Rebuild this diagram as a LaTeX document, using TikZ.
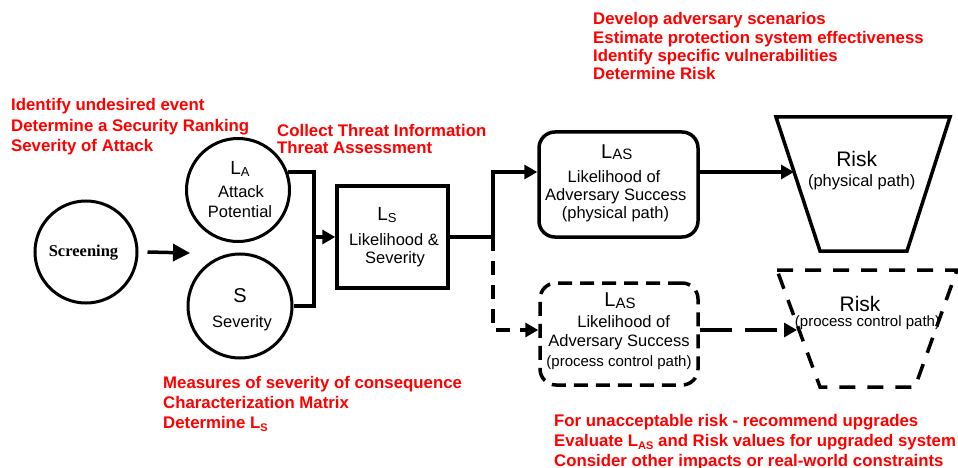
\documentclass[tikz,border=0pt]{standalone}
\usepackage{fontspec}
\setmainfont{Liberation Sans}
\newfontfamily\serifb{Liberation Serif}
\usetikzlibrary{arrows.meta}
\newcommand{\smallsub}[1]{\raisebox{-3pt}{\fontsize{11}{11}\selectfont #1}}
\newcommand{\blacksub}[2]{\raisebox{-1.5pt}{\fontsize{#1}{#1}\selectfont #2}}
\begin{document}
\begin{tikzpicture}[x=1pt,y=-1pt,
  redtxt/.style={text=red, font=\fontsize{16.8}{20}\selectfont\bfseries, inner sep=0, anchor=base west},
  btxt/.style={font=\fontsize{16.5}{19}\selectfont, inner sep=0, anchor=base},
  bigtxt/.style={font=\fontsize{21}{24}\selectfont, inner sep=0, anchor=base},
  conn/.style={line width=3.5pt},
  arr/.style={-{Triangle[length=13pt,width=14pt]}},
  circ/.style={draw, circle, line width=3pt, inner sep=0},
  dashbox/.style={dash pattern=on 14pt off 8pt}
]
\useasboundingbox (0,0) rectangle (958,468);

% red annotation texts
\foreach \t [count=\i] in {Identify undesired event, Determine a Security Ranking, Severity of Attack}
  \node[redtxt] (ra\i) at (11, {110.7+20.6*(\i-1)}) {\t};
\foreach \t [count=\i] in {Collect Threat Information, Threat Assessment}
  \node[redtxt] (rb\i) at (277, {136.7+16.7*(\i-1)}) {\t};
\foreach \t [count=\i] in {Develop adversary scenarios, Estimate protection system effectiveness, Identify specific vulnerabilities, Determine Risk}
  \node[redtxt] (rc\i) at (593, {25+18.3*(\i-1)}) {\t};
\foreach \t [count=\i] in {Measures of severity of consequence, Characterization Matrix, {Determine L\smallsub{S}}}
  \node[redtxt] (rd\i) at (163, {388.3+20*(\i-1)}) {\t};
\foreach \t [count=\i] in {For unacceptable risk - recommend upgrades, {Evaluate L\smallsub{AS} and Risk values for upgraded system}, Consider other impacts or real-world constraints}
  \node[redtxt] (re\i) at (554, {426.7+20*(\i-1)}) {\t};

% shapes
\node[circ, minimum size=102pt] (scr) at (86,252) {};
\node[inner sep=0, anchor=base, font=\fontsize{16.5}{19}\selectfont\serifb\bfseries] (scrt) at (83.5,256) {Screening};

\node[circ, minimum size=103pt] (la) at (238,190) {};
\node[bigtxt, font=\fontsize{19}{22}\selectfont] (lat1) at (240,175) {L\blacksub{13}{A}};
\node[btxt] (lat2) at (241,197.3) {Attack};
\node[btxt] (lat3) at (240,217.3) {Potential};

\node[circ, minimum size=104pt] (sv) at (240,306) {};
\node[bigtxt, font=\fontsize{20}{22}\selectfont] (svt1) at (240,302.7) {S};
\node[btxt] (svt2) at (242,327) {Severity};

\node[draw, line width=3.5pt, minimum width=111pt, minimum height=102pt, inner sep=0] (ls) at (392.5,237) {};
\node[bigtxt, font=\fontsize{19}{22}\selectfont] (lst1) at (387,220.7) {L\blacksub{13}{S}};
\node[btxt] (lst2) at (394,245) {Likelihood \&};
\node[btxt] (lst3) at (395,263.3) {Severity};

\node[draw, line width=3.5pt, rounded corners=16pt, minimum width=159pt, minimum height=105pt, inner sep=0] (las) at (618.5,184.5) {};
\node[bigtxt, font=\fontsize{20}{22}\selectfont] (last1) at (616.7,158.3) {L\blacksub{15}{AS}};
\node[btxt] (last2) at (614,182.3) {Likelihood of};
\node[btxt] (last3) at (615.8,200) {Adversary Success};
\node[btxt] (last4) at (615.5,218.3) {(physical path)};

\node[draw, dashbox, line width=3.5pt, rounded corners=16pt, minimum width=158pt, minimum height=102pt, inner sep=0] (dlas) at (619,334) {};
\node[bigtxt, font=\fontsize{20}{22}\selectfont] (dlast1) at (620,306.7) {L\blacksub{15}{AS}};
\node[btxt] (dlast2) at (623.7,327.3) {Likelihood of};
\node[btxt] (dlast3) at (619,346.7) {Adversary Success};
\node[btxt, font=\fontsize{15}{18}\selectfont] (dlast4) at (619,366.5) {(process control path)};

% risk trapezoids
\coordinate (r1) at (776,117); \coordinate (r2) at (950,117);
\coordinate (r3) at (907,251); \coordinate (r4) at (820,251);
\draw[line width=3.5pt, line join=miter] (r1) -- (r2) -- (r3) -- (r4) -- cycle;
\node[bigtxt] (rt1) at (856.7,166.7) {Risk};
\node[btxt] (rt2) at (861.7,186) {(physical path)};

\coordinate (d1) at (777,270); \coordinate (d2) at (957,270);
\coordinate (d3) at (915,387); \coordinate (d4) at (820,387);
\draw[line width=3.5pt, dash pattern=on 16pt off 12pt] (d1) -- (d2) -- (d3) -- (d4) -- cycle;
\node[bigtxt] (drt1) at (860,311.7) {Risk};
\node[btxt, font=\fontsize{15}{18}\selectfont] (drt2) at (867.5,326) {(process control path)};

% connectors
\coordinate (scrTo) at (190,253);
\draw[conn, -{Triangle[length=17pt,width=17pt]}] ([xshift=9pt]scr.east) -- (scrTo);

\coordinate (bx) at (314,237);
\draw[conn, line join=miter] (la.20) -- (la.20 -| bx) -- (sv.east -| bx) -- (sv.east);
\draw[conn, arr] (bx) -- (ls.west);

\coordinate (sp1) at (493,172);
\coordinate (sp2) at (493,330);
\draw[conn, arr, line join=miter] (ls.east) -- (ls.east -| sp1) -- (sp1) -- (sp1 -| las.west);
\draw[conn, arr, dash pattern=on 14pt off 10pt] (ls.east -| sp1) -- (sp2) -- (sp2 -| dlas.west);

\coordinate (riskIn) at (794,172);
\draw[conn, arr] (sp1 -| las.east) -- (riskIn);
\coordinate (driskIn) at (797,330);
\draw[conn, arr, dash pattern=on 32pt off 13pt] (sp2 -| dlas.east) -- (driskIn);
\end{tikzpicture}
\end{document}
